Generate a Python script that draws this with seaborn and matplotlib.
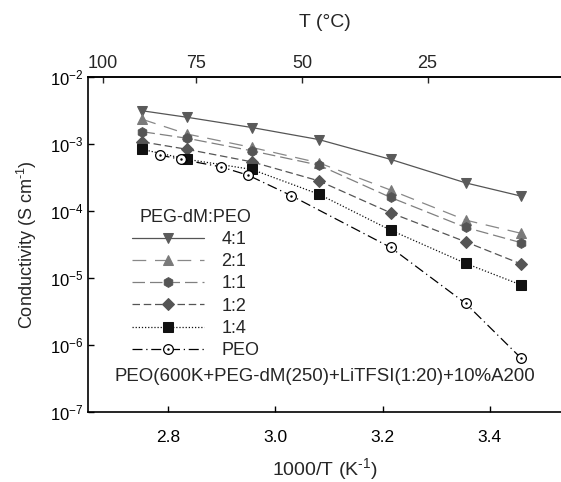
import numpy as np
import pandas as pd
import matplotlib
matplotlib.use("Agg")
import matplotlib.pyplot as plt
from matplotlib.legend_handler import HandlerTuple
import seaborn as sns

# ------------------ Data ------------------
x_blend = [2.752, 2.836, 2.956, 3.081, 3.215, 3.355, 3.459]
x_peo = [2.784, 2.824, 2.898, 2.949, 3.029, 3.215, 3.355, 3.459]

s_4_1 = [3.14e-3, 2.51e-3, 1.77e-3, 1.17e-3, 5.92e-4, 2.64e-4, 1.67e-4]
s_2_1 = [2.34e-3, 1.41e-3, 8.93e-4, 5.26e-4, 2.06e-4, 7.34e-5, 4.65e-5]
s_1_1 = [1.53e-3, 1.22e-3, 7.94e-4, 4.86e-4, 1.60e-4, 5.71e-5, 3.37e-5]
s_1_2 = [1.08e-3, 8.34e-4, 5.44e-4, 2.83e-4, 9.44e-5, 3.48e-5, 1.62e-5]
s_1_4 = [8.34e-4, 5.92e-4, 4.19e-4, 1.79e-4, 5.2e-5, 1.66e-5, 7.87e-6]
s_peo = [6.86e-4, 5.92e-4, 4.58e-4, 3.44e-4, 1.71e-4, 2.87e-5, 4.19e-6, 6.32e-7]

labels = ["4:1", "2:1", "1:1", "1:2", "1:4", "PEO"]

# top axis: temperature in C
top_ticks = [2.678, 2.852, 3.050, 3.284]
top_labels = ["100", "75", "50", "25"]

# ------------------ Style ------------------
sns.set_theme(style="ticks")
plt.rcParams["font.family"] = ["Liberation Sans", "DejaVu Sans"]
plt.rcParams["mathtext.fontset"] = "custom"
plt.rcParams["mathtext.rm"] = "Liberation Sans"
plt.rcParams["mathtext.it"] = "Liberation Sans"
plt.rcParams["axes.unicode_minus"] = False

fig = plt.figure(figsize=(5.61, 4.82), dpi=100)
ax = fig.add_axes([0.157, 0.145, 0.845, 0.695])

styles = [
    dict(color="#555555", marker="v", mfc="#5a5a5a", mec="#5a5a5a", ls="-"),
    dict(color="#888888", marker="^", mfc="#7a7a7a", mec="#7a7a7a", ls=(0, (11, 7))),
    dict(color="#808080", marker="h", mfc="#555555", mec="#555555", ls=(0, (10, 4))),
    dict(color="#555555", marker="D", mfc="#555555", mec="#555555", ls=(0, (6, 3))),
    dict(color="#111111", marker="s", mfc="#111111", mec="#111111", ls=(0, (1, 1.5))),
]
series = [s_4_1, s_2_1, s_1_1, s_1_2, s_1_4]

handles = []
for ys, st in zip(series, styles):
    ms = 6 if st["marker"] == "D" else 7
    sns.lineplot(x=x_blend, y=ys, ax=ax, color=st["color"], linestyle=st["ls"],
                 linewidth=0.9, marker=st["marker"], markersize=ms,
                 markerfacecolor=st["mfc"], markeredgecolor=st["mec"])
    handles.append(ax.lines[-1])

sns.lineplot(x=x_peo, y=s_peo, ax=ax, color="black", linestyle=(0, (8, 3, 1, 3)),
             linewidth=0.9, marker="o", markersize=7, markerfacecolor="white",
             markeredgecolor="black", markeredgewidth=0.9)
h_circ = ax.lines[-1]
ax.plot(x_peo, s_peo, ls="none", marker=".", markersize=1.5, color="black")
h_dot = ax.lines[-1]
handles.append((h_circ, h_dot))

ax.set_yscale("log")
ax.set_ylim(1e-7, 1e-2)
ax.set_xlim(2.6505, 3.535)
ax.set_xticks([2.8, 3.0, 3.2, 3.4])
ax.set_xticklabels(["2.8", "3.0", "3.2", "3.4"])
ax.minorticks_off()
ax.tick_params(direction="in", length=4, width=1, labelsize=12, colors="black")
ax.tick_params(axis="x", pad=13, labelsize=12.5)
for side in ["left", "bottom", "top"]:
    ax.spines[side].set_linewidth(1.2)
    ax.spines[side].set_color("black")
ax.spines["right"].set_visible(False)

ax.set_xlabel("1000/T (K$^{\\text{-}1}$)", fontsize=14, labelpad=8)
ax.set_ylabel("Conductivity (S cm$^{\\text{-}1}$)", fontsize=13, labelpad=8)

top = ax.secondary_xaxis("top")
top.set_xticks(top_ticks)
top.set_xticklabels(top_labels)
top.tick_params(direction="in", length=4, width=1, labelsize=13, pad=4)
top.spines["top"].set_linewidth(1.2)
top.set_xlabel("T (\u00b0C)", fontsize=14, labelpad=20)

leg = ax.legend(handles, labels, title="PEG-dM:PEO", loc="upper left",
                bbox_to_anchor=(0.066, 0.645), frameon=False, fontsize=13,
                title_fontsize=13, handlelength=4.0, handletextpad=0.95,
                labelspacing=0.29, borderpad=0.2,
                handler_map={tuple: HandlerTuple(ndivide=1)})

ax.text(0.5, 0.105, "PEO(600K+PEG-dM(250)+LiTFSI(1:20)+10%A200",
        transform=ax.transAxes, ha="center", va="center", fontsize=13.4)

fig.savefig("out.png", dpi=100)
